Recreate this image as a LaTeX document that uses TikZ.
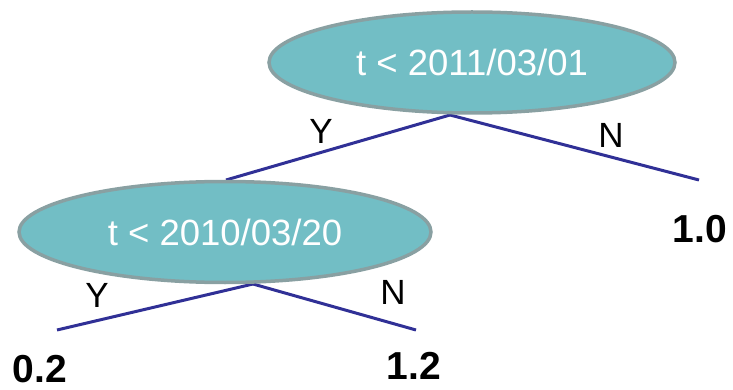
\documentclass[tikz,border=0pt]{standalone}
\usepackage{fontspec}
\setmainfont{Liberation Sans}
\usetikzlibrary{shapes.geometric}
\definecolor{tealfill}{RGB}{114,190,197}
\definecolor{grayborder}{RGB}{137,160,162}
\definecolor{edgeblue}{RGB}{48,48,150}
\tikzset{
  test/.style={ellipse, fill=tealfill, draw=grayborder, line width=3.5pt, inner sep=0pt, text=white, font=\fontsize{36.5}{40}\selectfont},
  edge/.style={draw=edgeblue, line width=3pt},
  lab/.style={font=\fontsize{35}{40}\selectfont, inner sep=0pt},
  leaf/.style={font=\fontsize{39}{44}\selectfont\bfseries, inner sep=0pt},
}
\begin{document}
\begin{tikzpicture}[x=1pt,y=-1pt]
\useasboundingbox (0,0) rectangle (733,390);
% coordinates
\coordinate (a1) at (450,115);
\coordinate (a2) at (253,284);
\coordinate (e1) at (699,180);
\coordinate (e2) at (57,330);
\coordinate (e3) at (416,330);
\coordinate (t1) at (226,180);
% edges
\draw[edge] (a1) -- (t1);
\draw[edge] (a1) -- (e1);
\draw[edge] (a2) -- (e2);
\draw[edge] (a2) -- (e3);
% tests
\node[test, minimum width=406pt, minimum height=101pt] (root) at (472,62.5) {t < 2011/03/01};
\node[test, minimum width=412pt, minimum height=101pt] (sub) at (225,232) {t < 2010/03/20};
% labels
\node[lab] (y1) at (321,131) {Y};
\node[lab] (n1) at (611,135) {N};
\node[lab] (y2) at (97,295) {Y};
\node[lab] (n2) at (393,292) {N};
% leaves
\node[leaf] (l1) at (700,229) {1.0};
\node[leaf] (l2) at (40,369) {0.2};
\node[leaf] (l3) at (414,366) {1.2};
\end{tikzpicture}
\end{document}
